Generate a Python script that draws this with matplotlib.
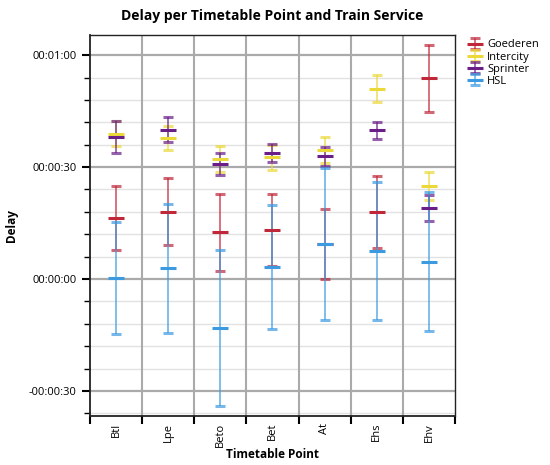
import numpy as np
import matplotlib.pyplot as plt
from matplotlib.colors import to_rgba
from matplotlib.ticker import MultipleLocator, FuncFormatter

plt.rcParams['font.family'] = ['Open Sans', 'DejaVu Sans']

points = ["Btl", "Lpe", "Beto", "Bet", "At", "Ehs", "Ehv"]
services = ["Goederen", "Intercity", "Sprinter", "HSL"]
colors = ["#C0283A", "#EBD93A", "#6A1E88", "#3C9BE0"]

# mean delay and error half-width per timetable point, in seconds
goederen_mean = [16.4, 18.0, 12.5, 13.1, 9.4, 18.0, 53.8]
goederen_err = [8.6, 9.0, 10.4, 9.7, 9.3, 9.6, 8.9]
intercity_mean = [39.0, 37.8, 32.2, 32.6, 34.7, 51.0, 24.9]
intercity_err = [3.4, 3.3, 3.4, 3.4, 3.5, 3.6, 3.7]
sprinter_mean = [38.1, 40.0, 30.8, 33.9, 32.9, 39.9, 19.0]
sprinter_err = [4.2, 3.4, 3.0, 2.4, 2.6, 2.3, 3.4]
hsl_mean = [0.3, 2.9, -13.1, 3.3, 9.4, 7.4, 4.6]
hsl_err = [15.1, 17.3, 21.0, 16.6, 20.4, 18.5, 18.6]

means = [goederen_mean, intercity_mean, sprinter_mean, hsl_mean]
errs = [goederen_err, intercity_err, sprinter_err, hsl_err]


def fmt_time(v, pos):
    sign = "-" if v < 0 else ""
    s = int(round(abs(v)))
    return "%s%02d:%02d:%02d" % (sign, s // 3600, (s % 3600) // 60, s % 60)


fig = plt.figure(figsize=(5.5, 4.65), dpi=100)
ax = fig.add_axes([0.1636, 0.1054, 0.6636, 0.8193])

x = np.arange(len(points))
for name, c, m, e in zip(services, colors, means, errs):
    ax.errorbar(x, m, yerr=e, fmt="_", color=c, ecolor=to_rgba(c, 0.7),
                markersize=12, mew=2.2, elinewidth=1.3, capsize=3.5,
                capthick=1.3, label=name, zorder=3)

ax.set_xlim(-0.5, len(points) - 0.5)
ax.set_ylim(-36.7, 65.4)

# category labels in the middle, ticks and lines on the boundaries
ax.set_xticks(np.arange(len(points) + 1) - 0.5)
ax.set_xticklabels([])
ax.set_xticks(x, minor=True)
ax.set_xticklabels(points, minor=True, rotation=90, fontsize=8)
ax.tick_params(axis="x", which="major", length=6, width=1.5, direction="out")
ax.tick_params(axis="x", which="minor", length=0, pad=5)
for b in np.arange(1, len(points)) - 0.5:
    ax.axvline(b, color="#aaaaaa", lw=1.5, zorder=1)

ax.yaxis.set_major_locator(MultipleLocator(30))
ax.yaxis.set_minor_locator(MultipleLocator(6))
ax.yaxis.set_major_formatter(FuncFormatter(fmt_time))
ax.tick_params(axis="y", which="major", length=6, width=1.5, labelsize=8)
ax.tick_params(axis="y", which="minor", length=4, width=1)
ax.grid(axis="y", which="major", color="#aaaaaa", lw=1.6, zorder=1)
ax.grid(axis="y", which="minor", color="#e2e2e2", lw=1, zorder=1)
ax.set_axisbelow(True)

for s in ax.spines.values():
    s.set_color("#222222")
    s.set_linewidth(1)
ax.spines["left"].set_linewidth(1.3)
ax.spines["bottom"].set_linewidth(1.3)

ax.set_title("Delay per Timetable Point and Train Service", fontsize=10,
             fontweight="bold", pad=11)
ax.set_xlabel("Timetable Point", fontsize=8.5, fontweight="bold", labelpad=1)
ax.set_ylabel("Delay", fontsize=8.5, fontweight="bold", labelpad=8)

ax.legend(loc="upper left", bbox_to_anchor=(1.03, 1.0), frameon=False,
          fontsize=8, handlelength=0.8, handletextpad=0.7, labelspacing=0.1,
          borderaxespad=0)

fig.savefig("out.png", dpi=100)
